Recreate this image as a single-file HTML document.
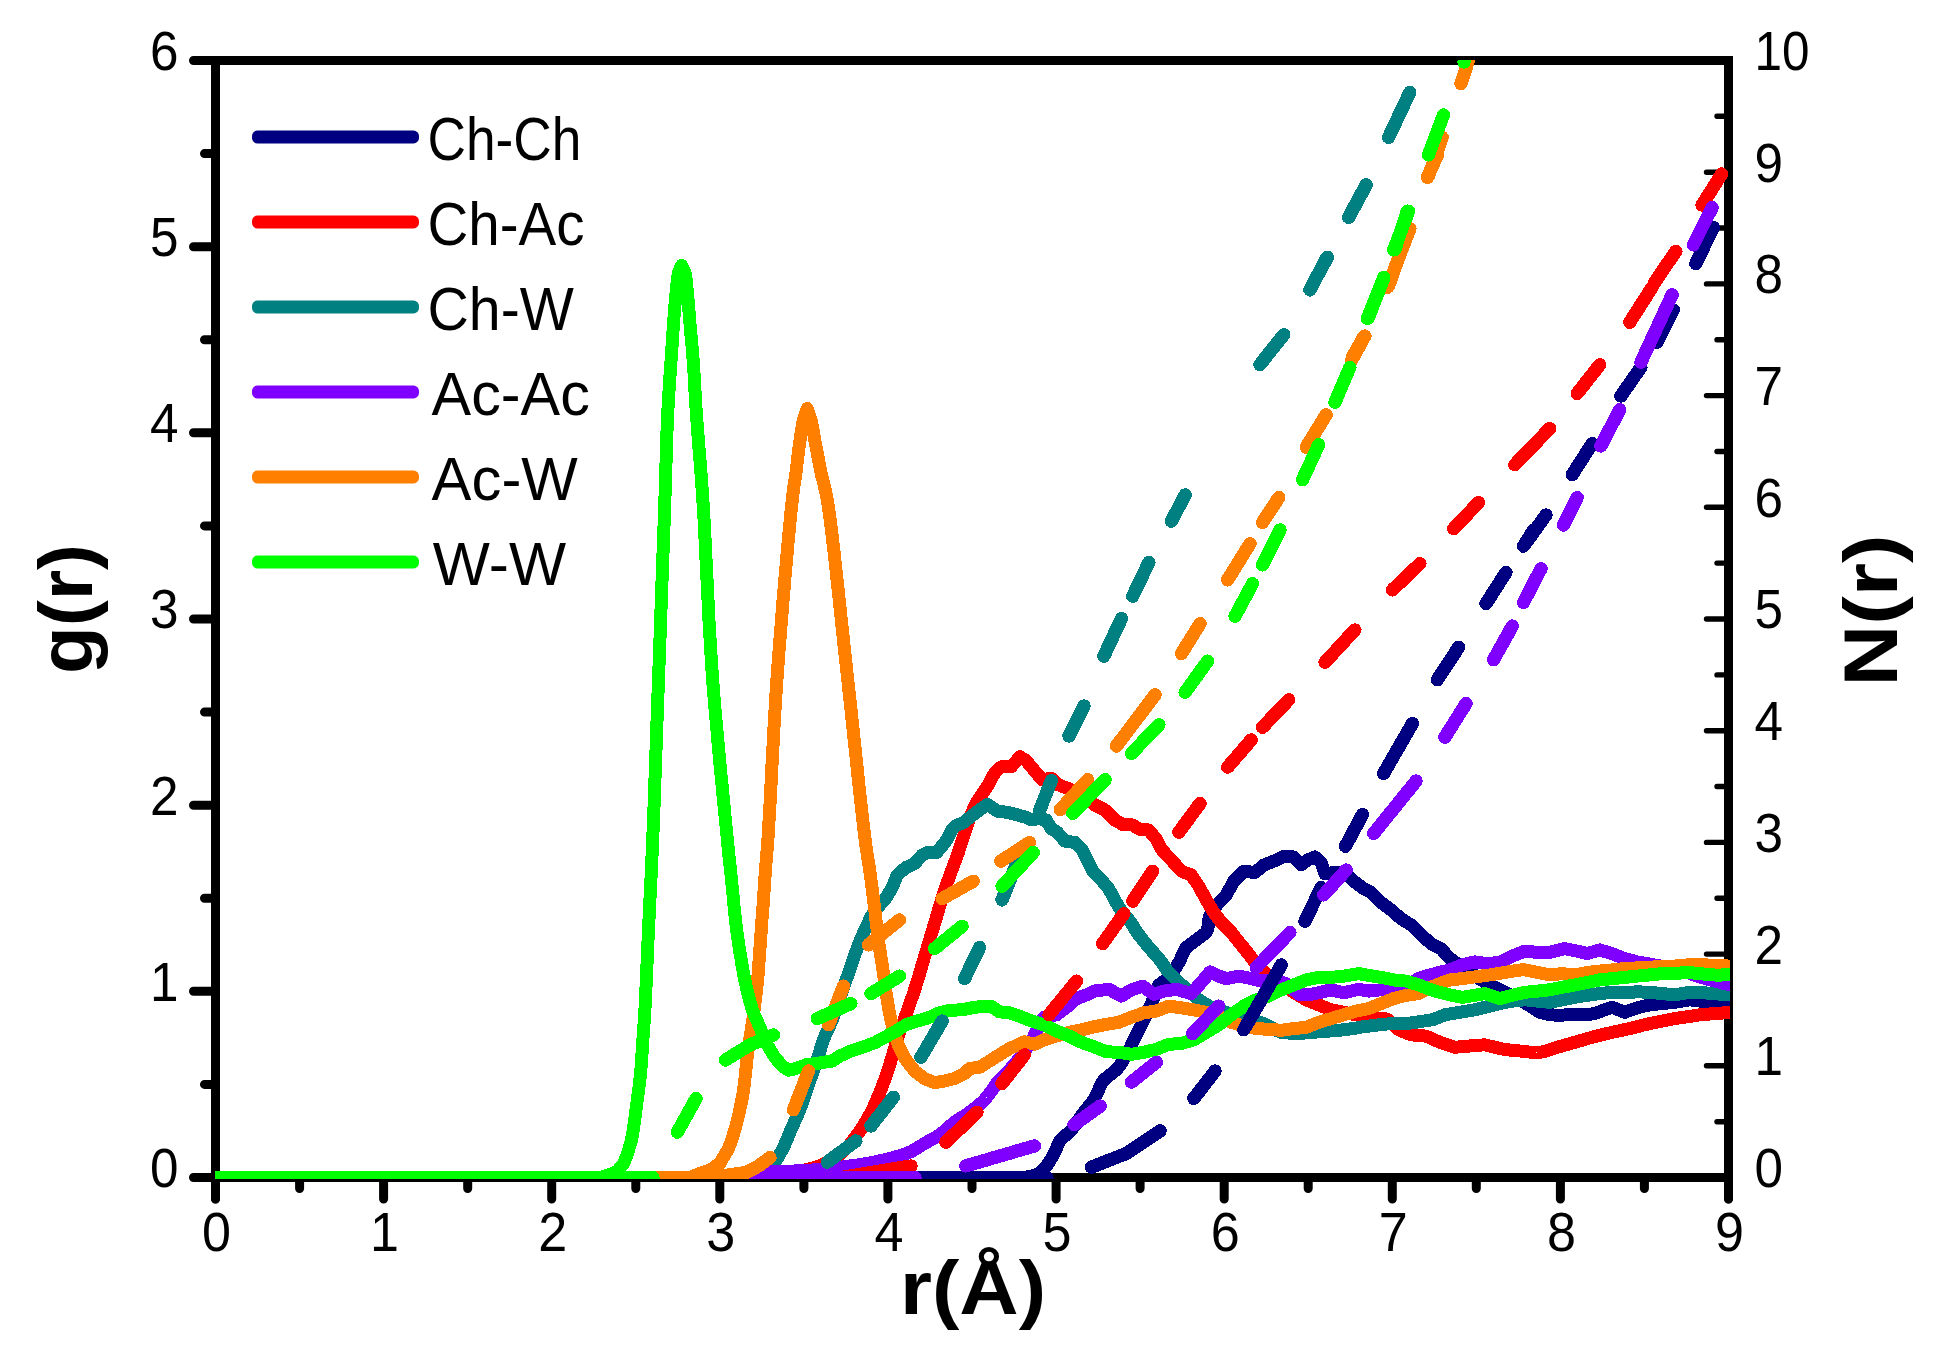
<!DOCTYPE html>
<html lang="en"><head><meta charset="utf-8"><title>g(r) and N(r)</title>
<style>
html,body{margin:0;padding:0;background:#fff;}
body{width:1938px;height:1362px;overflow:hidden;}
svg{display:block;}
text{font-family:"Liberation Sans","DejaVu Sans",sans-serif;fill:#000;}
.tk{font-size:56px;}
.lg{font-size:62px;}
.ax{font-size:76px;font-weight:bold;}
</style></head><body>
<svg width="1938" height="1362" viewBox="0 0 1938 1362">
<rect width="1938" height="1362" fill="#fff"/>
<defs><clipPath id="cp"><rect x="215" y="60" width="1515" height="1119"/></clipPath></defs>

<g stroke="#000" fill="none" stroke-linecap="round">
<path d="M215.5 60.5 V1199 M1728.5 60.5 V1199" stroke-width="9"/>
<path d="M193.5 60.5 H1733.0" stroke-width="9" stroke-linecap="butt"/>
<path d="M193.5 1177.5 H1733.0" stroke-width="9" stroke-linecap="butt"/>
<path d="M193.5 1177.5 H215.5 M193.5 991.3 H215.5 M193.5 805.2 H215.5 M193.5 619.0 H215.5 M193.5 432.8 H215.5 M193.5 246.7 H215.5 M193.5 60.5 H215.5 M204.5 1084.4 H215.5 M204.5 898.2 H215.5 M204.5 712.1 H215.5 M204.5 525.9 H215.5 M204.5 339.8 H215.5 M204.5 153.6 H215.5 M215.5 1177.5 V1199 M383.6 1177.5 V1199 M551.7 1177.5 V1199 M719.8 1177.5 V1199 M887.9 1177.5 V1199 M1056.1 1177.5 V1199 M1224.2 1177.5 V1199 M1392.3 1177.5 V1199 M1560.4 1177.5 V1199 M1728.5 1177.5 V1199 M299.6 1177.5 V1188.5 M467.7 1177.5 V1188.5 M635.8 1177.5 V1188.5 M803.9 1177.5 V1188.5 M972.0 1177.5 V1188.5 M1140.1 1177.5 V1188.5 M1308.2 1177.5 V1188.5 M1476.3 1177.5 V1188.5 M1644.4 1177.5 V1188.5 " stroke-width="9"/>
<path d="M1706.5 1065.8 H1728.5 M1706.5 954.1 H1728.5 M1706.5 842.4 H1728.5 M1706.5 730.7 H1728.5 M1706.5 619.0 H1728.5 M1706.5 507.3 H1728.5 M1706.5 395.6 H1728.5 M1706.5 283.9 H1728.5 M1706.5 172.2 H1728.5 M1717 1121.7 H1728.5 M1717 1010.0 H1728.5 M1717 898.2 H1728.5 M1717 786.5 H1728.5 M1717 674.9 H1728.5 M1717 563.1 H1728.5 M1717 451.5 H1728.5 M1717 339.8 H1728.5 M1717 228.0 H1728.5 M1717 116.3 H1728.5 " stroke-width="5.4" stroke-linecap="round"/>
</g>
<g clip-path="url(#cp)" fill="none" stroke-linejoin="round" stroke-linecap="butt" shape-rendering="crispEdges">
<path d="M900.0 1177.5 L903.1 1177.5 L906.3 1177.5 L909.5 1177.5 L912.8 1177.6 L916.1 1177.6 L919.5 1177.6 L923.0 1177.7 L926.5 1177.7 L930.0 1177.7 L933.5 1177.8 L937.1 1177.8 L940.7 1177.9 L944.3 1177.9 L947.9 1178.0 L951.5 1178.0 L955.1 1178.1 L958.7 1178.1 L962.2 1178.2 L965.8 1178.2 L969.3 1178.3 L972.7 1178.3 L976.1 1178.4 L979.5 1178.4 L982.8 1178.4 L986.1 1178.4 L989.3 1178.4 L992.4 1178.4 L995.4 1178.4 L998.4 1178.4 L1001.2 1178.4 L1004.0 1178.4 L1006.6 1178.4 L1009.2 1178.3 L1011.6 1178.3 L1014.0 1178.2 L1016.1 1178.1 L1018.2 1178.0 L1020.1 1177.9 L1021.9 1177.8 L1023.5 1177.6 L1025.0 1177.5 L1036.0 1175.0 L1042.0 1171.0 L1048.0 1164.0 L1054.0 1154.0 L1059.0 1142.2 L1061.0 1139.6 L1063.5 1137.2 L1066.2 1134.9 L1068.9 1132.4 L1071.5 1129.7 L1073.3 1127.4 L1075.2 1124.9 L1077.0 1122.3 L1078.7 1119.7 L1080.5 1117.1 L1082.2 1114.6 L1084.0 1112.2 L1093.9 1099.7 L1095.4 1097.1 L1096.8 1094.2 L1098.1 1091.1 L1099.4 1088.0 L1100.8 1085.0 L1102.3 1082.2 L1103.9 1079.8 L1116.4 1069.8 L1118.3 1067.6 L1120.0 1065.2 L1121.7 1062.7 L1123.3 1060.1 L1124.8 1057.5 L1126.4 1054.8 L1127.9 1052.1 L1129.4 1049.3 L1130.8 1046.5 L1132.2 1043.5 L1133.6 1040.6 L1135.0 1037.7 L1136.4 1034.8 L1137.8 1031.9 L1139.3 1029.1 L1140.8 1026.2 L1142.2 1023.3 L1143.7 1020.4 L1145.1 1017.6 L1146.4 1014.8 L1147.8 1011.8 L1149.1 1008.8 L1150.3 1005.8 L1151.6 1002.9 L1152.8 1000.1 L1153.9 997.3 L1158.9 984.9 L1168.9 977.4 L1170.7 975.2 L1172.4 972.9 L1174.1 970.3 L1175.8 967.7 L1177.4 965.0 L1178.9 962.4 L1180.4 959.3 L1181.8 956.1 L1183.1 952.9 L1184.6 950.0 L1186.4 947.4 L1196.3 939.9 L1206.3 932.4 L1207.6 929.4 L1208.2 925.9 L1208.6 922.1 L1209.1 918.3 L1210.1 914.9 L1218.8 902.4 L1226.3 894.9 L1233.8 881.2 L1243.8 871.2 L1255.0 872.5 L1263.8 865.0 L1273.8 861.2 L1283.8 856.2 L1293.7 857.0 L1301.2 865.0 L1307.5 860.0 L1315.0 857.0 L1321.2 862.5 L1325.0 873.7 L1333.7 872.5 L1343.7 872.0 L1353.7 881.2 L1363.7 888.7 L1371.2 892.4 L1381.2 902.4 L1391.1 909.9 L1401.1 918.7 L1411.1 924.9 L1421.1 934.9 L1431.1 943.6 L1441.1 948.6 L1448.6 957.4 L1458.6 964.9 L1468.6 969.9 L1481.0 979.9 L1494.8 987.3 L1507.3 993.6 L1519.8 999.8 L1532.3 1007.3 L1539.8 1012.3 L1549.7 1014.8 L1559.7 1015.3 L1574.7 1014.3 L1578.0 1014.2 L1581.4 1014.2 L1585.0 1014.2 L1588.5 1014.2 L1591.8 1014.0 L1594.7 1013.6 L1604.7 1009.8 L1612.2 1007.3 L1624.7 1012.3 L1637.2 1007.8 L1649.6 1004.8 L1662.1 1003.6 L1674.6 1002.3 L1689.6 999.8 L1699.6 1001.1 L1712.1 1002.3 L1715.1 1002.7 L1718.2 1003.1 L1721.5 1003.5 L1724.9 1004.0 L1728.3 1004.4 L1731.6 1004.8" stroke="#000080" stroke-width="13.0"/>
<path d="M770.0 1177.5 L780.0 1177.5 L792.3 1173.4 L794.8 1172.7 L797.5 1171.9 L800.5 1171.2 L803.6 1170.4 L806.9 1169.6 L810.1 1168.7 L813.4 1167.8 L816.5 1166.8 L819.5 1165.8 L822.2 1164.7 L825.4 1163.2 L828.5 1161.6 L831.4 1159.9 L834.3 1158.1 L837.0 1156.3 L839.7 1154.3 L842.2 1152.2 L844.6 1150.0 L846.9 1147.6 L849.1 1145.2 L851.2 1142.6 L853.2 1140.0 L855.2 1137.4 L857.2 1134.7 L859.1 1132.0 L861.0 1129.2 L862.8 1126.5 L864.6 1123.6 L866.3 1120.7 L868.0 1117.8 L869.7 1114.7 L871.0 1112.1 L872.4 1109.4 L873.7 1106.7 L875.0 1103.9 L876.2 1101.1 L877.4 1098.2 L878.6 1095.4 L879.8 1092.6 L880.9 1089.7 L882.1 1086.6 L883.3 1083.5 L884.4 1080.4 L885.5 1077.3 L886.6 1074.2 L887.6 1071.0 L888.6 1067.9 L889.7 1064.8 L890.6 1061.7 L891.6 1058.5 L892.5 1055.4 L893.4 1052.3 L894.3 1049.2 L895.2 1046.0 L896.2 1042.9 L897.2 1039.8 L898.2 1036.7 L899.3 1033.5 L900.3 1030.4 L901.4 1027.3 L902.6 1024.2 L903.7 1021.1 L904.8 1017.9 L905.9 1014.8 L907.0 1011.7 L908.1 1008.6 L909.2 1005.5 L910.3 1002.3 L911.4 999.2 L912.5 996.1 L913.6 993.0 L914.6 989.8 L915.6 986.7 L916.6 983.6 L917.5 980.5 L918.5 977.4 L919.4 974.2 L920.3 971.1 L921.2 968.0 L922.1 964.9 L923.1 961.7 L924.0 958.6 L924.9 955.5 L925.9 952.4 L926.8 949.3 L927.7 946.1 L928.7 943.0 L929.6 939.9 L930.6 936.8 L931.5 933.7 L932.4 930.5 L933.4 927.4 L934.3 924.3 L935.2 921.2 L936.2 918.0 L937.1 914.9 L938.0 911.8 L938.9 908.8 L939.8 905.7 L940.7 902.7 L941.6 899.6 L942.5 896.5 L943.5 893.3 L944.6 889.9 L945.5 887.2 L946.6 884.3 L947.6 881.3 L948.8 878.3 L949.9 875.2 L951.1 872.1 L952.2 869.0 L953.4 866.0 L954.5 863.0 L955.6 860.2 L956.5 857.4 L957.5 854.9 L958.7 851.4 L959.7 848.2 L960.7 845.1 L961.7 842.2 L962.7 839.2 L963.7 836.1 L964.7 833.0 L965.7 829.8 L966.7 826.7 L967.7 823.5 L968.8 820.4 L969.9 817.4 L971.3 814.0 L972.7 810.7 L974.2 807.5 L975.8 804.3 L977.4 801.2 L979.0 798.6 L980.7 796.1 L982.4 793.6 L984.2 791.1 L985.9 788.7 L987.4 786.2 L994.9 772.5 L1001.2 766.8 L1011.2 766.8 L1019.9 756.8 L1026.1 760.6 L1034.9 771.2 L1042.4 779.9 L1051.1 778.1 L1058.6 784.9 L1068.6 788.7 L1082.3 796.2 L1094.8 804.9 L1104.8 809.9 L1114.8 819.9 L1122.3 824.3 L1132.3 824.9 L1139.8 829.3 L1148.5 829.9 L1156.0 838.6 L1162.0 849.9 L1171.4 860.0 L1181.4 871.2 L1191.3 875.0 L1198.8 886.2 L1206.3 899.9 L1213.8 912.4 L1221.3 922.4 L1231.3 932.4 L1241.3 944.9 L1251.3 957.4 L1258.8 967.4 L1266.3 973.6 L1276.3 979.9 L1278.5 981.4 L1281.0 983.2 L1283.6 985.1 L1286.2 987.0 L1288.8 988.9 L1291.3 990.7 L1293.7 992.3 L1306.2 999.8 L1318.7 1004.8 L1331.2 1009.8 L1343.7 1012.3 L1346.4 1012.9 L1349.4 1013.5 L1352.5 1014.2 L1355.8 1014.9 L1359.1 1015.5 L1362.4 1016.2 L1365.6 1016.8 L1368.7 1017.3 L1372.2 1017.7 L1375.8 1017.9 L1379.3 1018.0 L1382.7 1018.3 L1385.8 1018.8 L1388.6 1019.8 L1398.6 1029.8 L1411.1 1034.8 L1424.9 1036.0 L1427.9 1037.0 L1430.8 1038.2 L1433.8 1039.6 L1436.8 1041.0 L1439.9 1042.3 L1454.8 1047.3 L1469.8 1046.0 L1484.8 1044.8 L1499.8 1048.5 L1502.9 1049.1 L1506.2 1049.6 L1509.6 1050.0 L1513.0 1050.4 L1516.4 1050.7 L1519.8 1051.0 L1523.1 1051.4 L1526.5 1051.8 L1529.9 1052.1 L1533.2 1052.4 L1536.5 1052.5 L1539.8 1052.3 L1542.8 1051.8 L1545.7 1051.1 L1548.6 1050.2 L1551.5 1049.2 L1554.3 1048.2 L1557.2 1047.3 L1560.1 1046.5 L1563.1 1045.6 L1566.0 1044.8 L1568.9 1044.0 L1571.8 1043.1 L1574.7 1042.3 L1577.6 1041.5 L1580.5 1040.6 L1583.4 1039.8 L1586.3 1038.9 L1589.2 1038.1 L1592.2 1037.3 L1595.5 1036.4 L1598.8 1035.6 L1602.2 1034.7 L1605.6 1033.9 L1608.9 1033.1 L1612.2 1032.3 L1615.7 1031.5 L1619.2 1030.8 L1622.6 1030.1 L1626.1 1029.3 L1629.7 1028.6 L1633.0 1027.8 L1636.4 1026.9 L1639.9 1026.0 L1643.3 1025.1 L1646.6 1024.3 L1649.6 1023.6 L1662.1 1021.1 L1674.6 1018.6 L1687.1 1016.8 L1699.6 1014.8 L1714.6 1013.6 L1717.9 1013.3 L1721.3 1013.1 L1724.7 1012.8 L1728.1 1012.6 L1731.6 1012.3" stroke="#FF0000" stroke-width="13.0"/>
<path d="M725.0 1177.5 L740.0 1177.5 L743.4 1177.0 L746.9 1176.4 L750.5 1175.6 L754.0 1174.6 L757.3 1173.4 L760.5 1172.1 L763.7 1170.5 L766.8 1168.8 L769.6 1166.9 L772.3 1164.7 L774.3 1162.6 L776.1 1160.2 L777.7 1157.7 L779.3 1155.1 L780.8 1152.4 L782.3 1149.7 L783.6 1147.0 L784.9 1144.2 L786.2 1141.4 L787.4 1138.5 L788.6 1135.5 L789.8 1132.6 L791.0 1129.7 L792.3 1126.9 L793.5 1124.1 L794.8 1121.3 L796.1 1118.5 L797.3 1115.6 L798.5 1112.7 L799.8 1109.7 L800.9 1106.7 L802.0 1103.7 L803.1 1100.6 L804.2 1097.4 L805.3 1094.2 L806.3 1091.1 L807.4 1087.9 L808.5 1084.7 L809.6 1081.6 L810.7 1078.4 L811.9 1075.3 L813.0 1072.1 L814.1 1068.9 L815.2 1065.8 L816.2 1062.8 L817.2 1059.8 L818.3 1056.3 L819.3 1052.9 L820.3 1049.6 L821.3 1046.3 L822.3 1043.1 L823.5 1039.8 L824.6 1036.9 L825.8 1034.1 L827.1 1031.3 L828.4 1028.5 L829.7 1025.7 L831.0 1022.8 L832.2 1019.8 L833.4 1016.8 L834.5 1013.8 L835.6 1010.7 L836.6 1007.5 L837.7 1004.3 L838.8 1001.2 L839.9 998.0 L841.0 994.8 L842.1 991.7 L843.1 988.6 L844.2 985.5 L845.3 982.4 L846.4 979.2 L847.5 976.1 L848.6 973.0 L849.7 969.9 L850.8 966.7 L851.9 963.5 L852.9 960.4 L854.0 957.2 L855.1 954.0 L856.2 950.9 L857.3 947.9 L858.4 944.9 L859.6 941.9 L860.9 938.9 L862.1 936.0 L863.4 933.1 L864.6 930.3 L865.9 927.6 L867.2 924.9 L868.7 921.7 L870.2 918.5 L871.8 915.5 L873.4 912.6 L875.2 909.9 L884.7 899.9 L892.2 887.5 L897.2 875.0 L905.9 867.5 L914.6 863.7 L922.1 855.0 L927.5 852.4 L936.2 853.0 L945.0 842.4 L946.6 839.8 L948.2 836.8 L949.8 833.7 L951.4 830.8 L953.1 828.2 L955.0 826.2 L963.7 822.4 L976.2 812.4 L987.4 804.3 L997.4 811.2 L1007.4 812.4 L1017.4 814.9 L1026.1 817.4 L1031.1 819.9 L1038.6 818.7 L1046.1 819.9 L1051.1 828.6 L1057.4 832.4 L1064.9 841.1 L1074.8 842.4 L1082.3 849.9 L1088.6 862.4 L1093.6 872.4 L1102.3 881.1 L1108.6 888.6 L1114.8 899.9 L1118.9 907.4 L1128.9 919.9 L1130.6 922.3 L1132.3 924.8 L1133.9 927.4 L1135.5 930.0 L1137.2 932.5 L1138.9 934.9 L1148.9 947.4 L1158.9 958.6 L1160.9 961.3 L1162.9 964.1 L1164.8 967.0 L1166.8 969.8 L1168.9 972.4 L1178.9 982.4 L1188.9 991.1 L1198.8 999.8 L1208.8 1006.1 L1218.8 1009.8 L1233.8 1014.8 L1248.8 1018.6 L1263.8 1023.6 L1266.7 1024.9 L1269.6 1026.5 L1272.6 1028.2 L1275.6 1029.9 L1278.5 1031.3 L1281.3 1032.3 L1293.7 1033.6 L1296.5 1033.5 L1299.4 1033.4 L1302.5 1033.2 L1305.7 1032.9 L1309.0 1032.7 L1312.3 1032.4 L1315.5 1032.1 L1318.7 1031.8 L1321.8 1031.6 L1325.0 1031.4 L1328.1 1031.1 L1331.2 1030.9 L1334.3 1030.7 L1337.5 1030.4 L1340.6 1030.1 L1343.7 1029.8 L1346.8 1029.4 L1349.9 1029.0 L1353.1 1028.5 L1356.2 1028.0 L1359.3 1027.4 L1362.4 1026.9 L1365.5 1026.5 L1368.7 1026.1 L1371.8 1025.7 L1375.1 1025.3 L1378.4 1024.9 L1381.7 1024.5 L1384.9 1024.2 L1388.0 1023.9 L1390.9 1023.7 L1393.6 1023.6 L1406.1 1023.6 L1418.6 1021.8 L1432.4 1019.8 L1444.9 1014.8 L1459.8 1012.3 L1474.8 1009.8 L1489.8 1006.1 L1499.8 1003.6 L1512.3 1001.1 L1524.8 999.8 L1537.3 1001.1 L1549.7 1002.3 L1562.2 999.8 L1574.7 997.3 L1587.2 995.3 L1599.7 993.6 L1612.2 992.3 L1624.7 992.8 L1637.2 991.8 L1649.6 992.3 L1662.1 993.6 L1674.6 994.8 L1687.1 992.8 L1699.6 992.3 L1712.1 993.6 L1715.1 993.8 L1718.2 994.0 L1721.5 994.2 L1724.9 994.4 L1728.3 994.6 L1731.6 994.8" stroke="#008080" stroke-width="13.0"/>
<path d="M725.0 1177.5 L740.0 1177.5 L752.3 1173.4 L754.3 1173.1 L756.6 1172.8 L759.0 1172.5 L761.7 1172.3 L764.5 1172.1 L767.4 1171.9 L770.5 1171.8 L773.7 1171.7 L776.9 1171.5 L780.3 1171.4 L783.7 1171.3 L787.1 1171.2 L790.4 1171.1 L793.8 1171.0 L797.2 1170.9 L800.5 1170.7 L803.7 1170.6 L806.8 1170.4 L809.7 1170.2 L813.0 1169.9 L816.3 1169.6 L819.6 1169.3 L822.9 1169.0 L826.2 1168.7 L829.5 1168.4 L832.8 1168.0 L836.0 1167.7 L839.2 1167.3 L842.4 1167.0 L845.5 1166.6 L848.5 1166.2 L851.5 1165.8 L854.3 1165.5 L857.1 1165.1 L859.7 1164.7 L863.2 1164.1 L866.6 1163.5 L869.7 1163.0 L872.7 1162.4 L875.7 1161.8 L878.6 1161.1 L881.6 1160.4 L884.7 1159.7 L887.9 1158.9 L891.1 1158.1 L894.4 1157.2 L897.6 1156.3 L900.8 1155.4 L903.9 1154.4 L906.9 1153.3 L909.6 1152.2 L912.9 1150.6 L916.0 1148.9 L918.9 1147.0 L921.7 1145.2 L924.6 1143.4 L927.6 1141.7 L930.7 1140.1 L933.7 1138.4 L936.7 1136.6 L939.6 1134.7 L942.2 1132.8 L944.6 1130.7 L947.1 1128.5 L949.6 1126.3 L952.1 1124.2 L954.6 1122.2 L957.1 1120.5 L959.6 1118.8 L962.1 1117.2 L964.6 1115.6 L967.1 1114.0 L969.6 1112.2 L972.1 1110.3 L974.7 1108.4 L977.2 1106.4 L979.7 1104.3 L982.2 1102.1 L984.6 1099.7 L986.5 1097.5 L988.5 1095.0 L990.4 1092.4 L992.3 1089.7 L994.2 1087.0 L996.0 1084.4 L997.8 1081.9 L999.5 1079.8 L1009.5 1069.8 L1011.6 1067.5 L1013.7 1065.1 L1015.9 1062.5 L1018.0 1059.9 L1020.1 1057.4 L1022.0 1054.8 L1023.8 1052.4 L1025.5 1050.0 L1027.1 1047.5 L1028.7 1045.1 L1030.4 1042.5 L1032.0 1039.8 L1033.5 1037.1 L1034.8 1034.0 L1036.2 1030.8 L1037.6 1027.5 L1039.0 1024.3 L1040.5 1021.5 L1042.2 1019.1 L1044.0 1017.3 L1056.5 1014.8 L1066.5 1007.3 L1076.5 998.6 L1086.5 994.8 L1093.9 991.1 L1108.9 989.3 L1121.4 996.1 L1131.4 989.8 L1142.6 986.1 L1153.9 994.3 L1163.9 991.1 L1176.4 989.3 L1191.3 993.6 L1201.3 982.4 L1210.1 971.9 L1218.8 976.1 L1226.3 978.6 L1238.8 976.1 L1251.3 978.6 L1261.3 981.1 L1276.3 979.9 L1288.7 984.9 L1298.7 994.3 L1308.7 994.8 L1318.7 992.8 L1331.2 989.8 L1343.7 992.8 L1358.7 989.3 L1368.7 991.1 L1381.2 989.8 L1393.6 989.8 L1406.1 986.1 L1418.6 978.6 L1421.7 977.4 L1424.9 976.3 L1428.3 975.4 L1431.6 974.5 L1434.9 973.6 L1449.8 969.9 L1462.3 964.9 L1474.8 961.9 L1487.3 963.6 L1499.8 962.4 L1512.3 956.1 L1524.8 951.1 L1537.3 952.4 L1549.7 952.4 L1564.7 948.6 L1577.2 951.1 L1587.2 953.6 L1599.7 949.9 L1612.2 953.6 L1624.7 958.6 L1637.2 961.9 L1649.6 964.1 L1662.1 966.4 L1674.6 968.9 L1687.1 972.4 L1699.6 976.9 L1712.1 980.4 L1724.6 983.6 L1731.6 984.9" stroke="#8000FF" stroke-width="13.0"/>
<path d="M640.0 1177.5 L643.2 1177.5 L646.5 1177.6 L649.9 1177.7 L653.4 1177.8 L656.9 1177.9 L660.5 1178.0 L664.0 1178.2 L667.5 1178.3 L670.8 1178.3 L674.1 1178.4 L677.3 1178.4 L680.3 1178.4 L683.1 1178.3 L685.6 1178.1 L688.0 1177.8 L690.0 1177.5 L699.9 1173.4 L709.8 1170.2 L719.8 1163.4 L727.8 1149.7 L729.0 1147.1 L730.1 1144.3 L731.1 1141.4 L732.1 1138.5 L733.0 1135.6 L733.9 1132.6 L734.8 1129.7 L735.8 1126.4 L736.7 1123.1 L737.5 1119.7 L738.3 1116.4 L739.1 1113.1 L739.8 1109.7 L740.5 1106.5 L741.2 1103.3 L741.8 1100.1 L742.4 1096.9 L743.0 1093.4 L743.6 1089.7 L743.9 1087.0 L744.3 1084.2 L744.7 1081.2 L745.0 1078.1 L745.3 1075.0 L745.7 1071.7 L746.0 1068.5 L746.3 1065.2 L746.7 1061.9 L747.0 1058.7 L747.4 1055.4 L747.8 1052.3 L748.2 1049.2 L748.7 1046.0 L749.2 1042.9 L749.6 1039.8 L750.1 1036.7 L750.6 1033.5 L751.2 1030.4 L751.7 1027.3 L752.1 1024.2 L752.6 1021.0 L753.1 1017.9 L753.5 1014.8 L753.9 1011.7 L754.3 1008.6 L754.7 1005.5 L755.1 1002.3 L755.5 999.2 L755.8 996.1 L756.2 993.0 L756.5 989.9 L756.9 986.8 L757.2 983.6 L757.5 980.5 L757.8 977.4 L758.1 974.3 L758.3 971.2 L758.6 968.0 L758.8 964.9 L759.0 961.8 L759.2 958.7 L759.4 955.5 L759.7 952.4 L759.9 949.3 L760.1 946.2 L760.3 943.0 L760.5 939.9 L760.7 936.8 L761.0 933.6 L761.2 930.5 L761.4 927.4 L761.7 924.3 L761.9 921.1 L762.1 918.0 L762.4 914.9 L762.6 911.8 L762.8 908.6 L763.1 905.5 L763.3 902.4 L763.5 899.3 L763.7 896.1 L763.9 892.9 L764.2 889.7 L764.4 886.4 L764.6 883.2 L764.8 880.0 L765.0 876.9 L765.2 873.8 L765.4 870.8 L765.6 867.9 L765.8 865.0 L766.1 861.8 L766.3 858.9 L766.5 856.2 L766.8 853.6 L767.0 850.8 L767.3 847.7 L767.6 844.1 L767.9 840.0 L768.0 838.3 L768.1 836.5 L768.3 834.5 L768.4 832.5 L768.5 830.5 L768.6 828.3 L768.8 826.1 L768.9 823.7 L769.0 821.3 L769.2 818.9 L769.3 816.3 L769.5 813.7 L769.6 811.1 L769.8 808.3 L769.9 805.6 L770.1 802.7 L770.2 799.8 L770.4 796.9 L770.5 793.9 L770.7 790.8 L770.8 787.7 L771.0 784.6 L771.2 781.4 L771.3 778.2 L771.5 775.0 L771.7 771.7 L771.8 768.4 L772.0 765.1 L772.2 761.8 L772.3 758.4 L772.5 755.0 L772.7 751.6 L772.9 748.2 L773.1 744.8 L773.2 741.3 L773.4 737.9 L773.6 734.4 L773.8 731.0 L774.0 727.6 L774.2 724.1 L774.4 720.7 L774.6 717.3 L774.8 713.9 L775.0 710.5 L775.2 707.1 L775.4 703.7 L775.6 700.4 L775.8 697.1 L776.0 693.8 L776.2 690.6 L776.4 687.3 L776.6 684.1 L776.8 681.0 L777.1 677.9 L777.3 674.8 L777.5 671.8 L777.7 668.8 L777.9 665.7 L778.2 662.6 L778.4 659.4 L778.6 656.2 L778.9 653.0 L779.1 649.7 L779.4 646.4 L779.6 643.1 L779.9 639.8 L780.2 636.4 L780.4 633.0 L780.7 629.6 L781.0 626.2 L781.2 622.8 L781.5 619.4 L781.8 615.9 L782.1 612.5 L782.4 609.0 L782.6 605.6 L782.9 602.1 L783.2 598.7 L783.5 595.3 L783.8 591.9 L784.1 588.4 L784.4 585.0 L784.6 581.7 L784.9 578.3 L785.2 575.0 L785.5 571.7 L785.8 568.4 L786.1 565.1 L786.4 561.9 L786.6 558.7 L786.9 555.5 L787.2 552.4 L787.5 549.3 L787.8 546.3 L788.0 543.3 L788.3 540.4 L788.6 537.5 L788.8 534.6 L789.1 531.9 L789.3 529.1 L789.6 526.5 L789.8 523.9 L790.1 521.3 L790.3 518.8 L790.6 516.4 L790.8 514.1 L791.0 511.9 L791.2 509.7 L791.5 507.6 L791.7 505.6 L791.9 503.6 L792.1 501.8 L792.3 500.0 L792.7 495.9 L793.2 492.2 L793.6 489.0 L794.0 486.0 L794.4 483.3 L794.8 480.6 L795.2 478.0 L795.6 475.2 L796.0 472.2 L796.4 469.2 L796.8 466.2 L797.1 463.1 L797.5 460.1 L797.9 457.0 L798.2 453.9 L798.6 450.9 L799.0 447.9 L799.4 445.0 L799.8 442.2 L800.2 438.8 L800.7 435.3 L801.2 431.9 L801.8 428.6 L802.3 425.5 L802.9 422.5 L803.5 419.7 L807.2 408.5 L811.0 419.7 L811.6 422.5 L812.3 425.5 L812.9 428.6 L813.4 431.9 L814.0 435.3 L814.6 438.8 L815.2 442.2 L815.8 445.0 L816.3 447.9 L816.9 450.9 L817.4 453.9 L818.0 457.0 L818.6 460.1 L819.2 463.1 L819.8 466.2 L820.4 469.2 L821.0 472.2 L821.6 475.2 L822.3 478.0 L823.0 480.6 L823.7 483.3 L824.3 486.0 L825.0 489.0 L825.8 492.2 L826.5 495.8 L827.2 500.0 L827.5 501.8 L827.8 503.6 L828.1 505.5 L828.4 507.6 L828.7 509.7 L829.0 511.8 L829.3 514.1 L829.7 516.4 L830.0 518.8 L830.3 521.3 L830.6 523.8 L831.0 526.4 L831.3 529.1 L831.6 531.8 L832.0 534.6 L832.3 537.5 L832.7 540.4 L833.0 543.3 L833.4 546.3 L833.7 549.3 L834.1 552.4 L834.4 555.5 L834.8 558.7 L835.1 561.9 L835.5 565.1 L835.8 568.4 L836.2 571.6 L836.5 575.0 L836.9 578.3 L837.3 581.7 L837.6 585.0 L838.0 588.4 L838.4 591.8 L838.7 595.3 L839.1 598.7 L839.4 602.1 L839.8 605.6 L840.2 609.0 L840.5 612.5 L840.9 615.9 L841.3 619.4 L841.6 622.8 L842.0 626.2 L842.3 629.6 L842.7 633.0 L843.1 636.4 L843.4 639.8 L843.8 643.1 L844.1 646.4 L844.5 649.7 L844.8 653.0 L845.2 656.2 L845.5 659.4 L845.9 662.6 L846.2 665.7 L846.5 668.8 L846.9 671.8 L847.2 674.8 L847.5 677.9 L847.9 681.0 L848.2 684.1 L848.6 687.3 L848.9 690.5 L849.3 693.7 L849.6 697.0 L850.0 700.3 L850.3 703.6 L850.7 706.9 L851.1 710.3 L851.4 713.6 L851.8 717.0 L852.1 720.4 L852.5 723.8 L852.9 727.2 L853.2 730.6 L853.6 734.0 L853.9 737.4 L854.3 740.8 L854.6 744.2 L855.0 747.6 L855.4 751.0 L855.7 754.4 L856.1 757.7 L856.4 761.1 L856.8 764.4 L857.1 767.7 L857.5 770.9 L857.8 774.2 L858.1 777.4 L858.5 780.6 L858.8 783.7 L859.1 786.9 L859.5 789.9 L859.8 793.0 L860.1 796.0 L860.4 798.9 L860.8 801.8 L861.1 804.7 L861.4 807.5 L861.7 810.2 L862.0 812.9 L862.3 815.6 L862.6 818.1 L862.9 820.6 L863.1 823.1 L863.4 825.5 L863.7 827.8 L863.9 830.0 L864.2 832.2 L864.5 834.2 L864.7 836.2 L864.9 838.2 L865.2 840.0 L865.7 844.0 L866.2 847.5 L866.7 850.7 L867.1 853.6 L867.6 856.4 L868.0 859.0 L868.4 861.6 L868.8 864.2 L869.3 867.0 L869.7 870.0 L870.1 873.0 L870.5 876.2 L870.9 879.3 L871.4 882.5 L871.8 885.7 L872.2 888.9 L872.6 892.1 L873.0 895.3 L873.4 898.5 L873.8 901.7 L874.2 904.9 L874.6 908.1 L875.0 911.3 L875.3 914.5 L875.7 917.8 L876.1 921.0 L876.5 924.2 L876.8 927.4 L877.2 930.6 L877.6 933.7 L878.0 936.8 L878.4 939.9 L878.8 943.0 L879.3 946.0 L879.7 949.1 L880.2 952.1 L880.7 955.0 L881.1 958.0 L881.6 960.9 L882.0 963.9 L882.5 966.9 L882.9 969.9 L883.3 972.9 L883.8 975.9 L884.2 978.9 L884.6 982.0 L885.0 985.0 L885.4 988.1 L885.8 991.1 L886.2 994.0 L886.7 997.0 L887.2 999.8 L887.7 1003.1 L888.3 1006.3 L888.9 1009.5 L889.5 1012.7 L890.1 1015.8 L890.7 1018.8 L891.4 1021.9 L892.2 1024.8 L893.1 1028.3 L894.0 1031.8 L895.0 1035.2 L896.1 1038.5 L897.2 1041.7 L898.4 1044.8 L899.8 1048.0 L901.2 1051.1 L902.7 1054.1 L904.2 1057.0 L905.9 1059.8 L914.6 1071.0 L924.6 1078.5 L934.6 1082.7 L944.6 1081.0 L954.6 1078.5 L964.6 1073.5 L969.6 1068.5 L979.6 1067.3 L989.6 1061.0 L999.5 1054.8 L1009.5 1048.5 L1017.0 1045.3 L1024.5 1041.8 L1034.5 1044.3 L1044.0 1039.8 L1056.5 1036.0 L1069.0 1032.3 L1081.5 1029.8 L1093.9 1026.8 L1106.4 1024.3 L1118.9 1022.3 L1131.4 1017.3 L1143.9 1012.8 L1156.4 1011.1 L1168.9 1006.1 L1181.4 1007.8 L1193.8 1009.8 L1206.3 1012.3 L1218.8 1016.1 L1231.3 1022.3 L1243.8 1026.1 L1256.3 1028.6 L1268.8 1029.3 L1281.3 1030.3 L1293.7 1028.6 L1306.2 1027.3 L1318.7 1022.3 L1331.2 1018.6 L1343.7 1014.8 L1356.2 1011.1 L1368.7 1008.6 L1381.2 1003.6 L1393.6 998.6 L1406.1 995.3 L1418.6 993.6 L1429.9 987.8 L1439.9 983.6 L1449.8 979.9 L1462.3 978.6 L1474.8 976.9 L1489.8 974.9 L1504.8 972.4 L1508.0 971.9 L1511.4 971.3 L1514.9 970.7 L1518.4 970.2 L1521.7 969.9 L1524.8 969.9 L1537.3 972.4 L1549.7 974.9 L1562.2 973.6 L1574.7 974.9 L1587.2 972.4 L1599.7 971.1 L1612.2 969.9 L1624.7 968.6 L1637.2 967.9 L1649.6 967.4 L1662.1 966.1 L1674.6 966.1 L1687.1 964.9 L1699.6 964.4 L1712.1 965.4 L1715.1 965.5 L1718.2 965.7 L1721.5 965.8 L1724.9 965.9 L1728.3 966.0 L1731.6 966.1" stroke="#FF8000" stroke-width="13.0"/>
<path d="M215.5 1177.5 L218.5 1177.5 L221.6 1177.5 L224.7 1177.5 L227.8 1177.5 L230.9 1177.5 L234.1 1177.5 L237.3 1177.5 L240.5 1177.6 L243.8 1177.6 L247.1 1177.6 L250.4 1177.6 L253.8 1177.6 L257.1 1177.6 L260.5 1177.7 L263.9 1177.7 L267.4 1177.7 L270.8 1177.7 L274.3 1177.8 L277.8 1177.8 L281.3 1177.8 L284.8 1177.9 L288.4 1177.9 L292.0 1177.9 L295.5 1177.9 L299.1 1178.0 L302.7 1178.0 L306.4 1178.0 L310.0 1178.1 L313.7 1178.1 L317.3 1178.2 L321.0 1178.2 L324.7 1178.2 L328.3 1178.3 L332.0 1178.3 L335.7 1178.3 L339.4 1178.4 L343.2 1178.4 L346.9 1178.5 L350.6 1178.5 L354.3 1178.5 L358.0 1178.6 L361.8 1178.6 L365.5 1178.7 L369.2 1178.7 L373.0 1178.8 L376.7 1178.8 L380.4 1178.8 L384.1 1178.9 L387.8 1178.9 L391.5 1179.0 L395.2 1179.0 L398.9 1179.0 L402.6 1179.1 L406.3 1179.1 L410.0 1179.1 L413.7 1179.2 L417.3 1179.2 L420.9 1179.3 L424.6 1179.3 L428.2 1179.3 L431.8 1179.4 L435.4 1179.4 L438.9 1179.4 L442.5 1179.5 L446.0 1179.5 L449.6 1179.5 L453.1 1179.5 L456.5 1179.6 L460.0 1179.6 L463.4 1179.6 L466.9 1179.6 L470.3 1179.7 L473.6 1179.7 L477.0 1179.7 L480.3 1179.7 L483.6 1179.7 L486.9 1179.8 L490.1 1179.8 L493.3 1179.8 L496.5 1179.8 L499.7 1179.8 L502.8 1179.8 L505.9 1179.8 L509.0 1179.8 L512.0 1179.8 L515.0 1179.8 L518.0 1179.8 L520.9 1179.8 L523.8 1179.8 L526.7 1179.8 L529.5 1179.8 L532.3 1179.8 L535.0 1179.8 L537.7 1179.7 L540.4 1179.7 L543.0 1179.7 L545.5 1179.7 L548.1 1179.6 L550.6 1179.6 L553.0 1179.6 L555.4 1179.6 L557.8 1179.5 L560.1 1179.5 L562.3 1179.4 L564.5 1179.4 L566.7 1179.3 L568.8 1179.3 L570.8 1179.2 L572.9 1179.2 L574.8 1179.1 L576.7 1179.1 L578.5 1179.0 L580.3 1178.9 L582.1 1178.9 L583.7 1178.8 L585.4 1178.7 L586.9 1178.6 L588.4 1178.5 L589.9 1178.4 L591.2 1178.4 L592.6 1178.3 L593.8 1178.2 L595.0 1178.1 L596.1 1178.0 L597.2 1177.8 L598.2 1177.7 L599.1 1177.6 L600.0 1177.5 L610.0 1174.5 L617.5 1171.0 L623.7 1163.6 L627.5 1153.6 L631.2 1141.1 L631.8 1138.2 L632.4 1135.2 L632.9 1132.0 L633.4 1128.8 L633.8 1125.6 L634.3 1122.4 L634.8 1119.3 L635.2 1116.2 L635.6 1113.1 L636.0 1109.9 L636.4 1106.8 L636.8 1103.7 L637.2 1100.6 L637.7 1097.4 L638.1 1094.3 L638.5 1091.2 L638.9 1088.0 L639.3 1084.9 L639.7 1081.8 L640.0 1078.7 L640.3 1075.6 L640.6 1072.4 L640.9 1069.3 L641.2 1066.2 L641.4 1063.1 L641.6 1060.0 L641.8 1056.9 L642.0 1053.7 L642.2 1050.6 L642.4 1047.5 L642.6 1044.4 L642.8 1041.2 L643.0 1038.1 L643.3 1035.0 L643.5 1031.8 L643.7 1028.7 L643.9 1025.7 L644.1 1023.0 L644.3 1020.2 L644.5 1017.2 L644.7 1013.9 L644.9 1010.0 L645.0 1008.0 L645.1 1005.8 L645.2 1003.5 L645.4 1001.1 L645.5 998.5 L645.6 995.9 L645.7 993.1 L645.9 990.2 L646.0 987.2 L646.1 984.2 L646.3 981.1 L646.4 977.9 L646.5 974.6 L646.7 971.3 L646.8 968.0 L647.0 964.7 L647.1 961.3 L647.3 957.9 L647.4 954.5 L647.6 951.1 L647.7 947.7 L647.8 944.3 L648.0 941.0 L648.1 937.7 L648.3 934.4 L648.4 931.2 L648.6 928.1 L648.7 925.0 L648.8 922.0 L649.0 919.0 L649.1 916.0 L649.3 913.1 L649.4 910.2 L649.5 907.3 L649.7 904.4 L649.8 901.5 L650.0 898.7 L650.1 895.8 L650.2 892.9 L650.4 890.0 L650.5 887.2 L650.7 884.3 L650.8 881.3 L651.0 878.4 L651.1 875.4 L651.2 872.4 L651.4 869.4 L651.5 866.3 L651.7 863.2 L651.8 860.1 L652.0 856.9 L652.1 853.6 L652.3 850.3 L652.4 846.9 L652.6 843.5 L652.7 840.0 L652.8 837.5 L652.9 834.9 L653.0 832.3 L653.1 829.7 L653.2 827.0 L653.3 824.4 L653.4 821.6 L653.5 818.9 L653.6 816.1 L653.8 813.3 L653.9 810.5 L654.0 807.7 L654.1 804.8 L654.2 801.9 L654.3 799.0 L654.4 796.1 L654.5 793.1 L654.6 790.1 L654.7 787.1 L654.8 784.1 L654.9 781.1 L655.0 778.1 L655.2 775.0 L655.3 771.9 L655.4 768.9 L655.5 765.8 L655.6 762.7 L655.7 759.5 L655.8 756.4 L655.9 753.3 L656.0 750.1 L656.1 747.0 L656.2 743.8 L656.3 740.7 L656.5 737.5 L656.6 734.4 L656.7 731.2 L656.8 728.0 L656.9 724.8 L657.0 721.7 L657.1 718.5 L657.2 715.3 L657.3 712.2 L657.4 709.0 L657.6 705.9 L657.7 702.7 L657.8 699.6 L657.9 696.5 L658.0 693.3 L658.1 690.2 L658.2 687.1 L658.3 684.0 L658.4 680.9 L658.5 677.9 L658.6 674.8 L658.8 671.8 L658.9 668.8 L659.0 665.8 L659.1 662.8 L659.2 659.7 L659.3 656.7 L659.4 653.6 L659.5 650.5 L659.6 647.4 L659.7 644.3 L659.9 641.1 L660.0 638.0 L660.1 634.9 L660.2 631.7 L660.3 628.5 L660.4 625.4 L660.5 622.2 L660.7 619.0 L660.8 615.9 L660.9 612.7 L661.0 609.5 L661.1 606.3 L661.2 603.1 L661.3 600.0 L661.5 596.8 L661.6 593.6 L661.7 590.5 L661.8 587.3 L661.9 584.1 L662.0 581.0 L662.1 577.9 L662.3 574.7 L662.4 571.6 L662.5 568.5 L662.6 565.4 L662.7 562.3 L662.8 559.3 L662.9 556.2 L663.0 553.2 L663.1 550.2 L663.2 547.2 L663.3 544.2 L663.4 541.3 L663.5 538.3 L663.7 535.4 L663.8 532.5 L663.9 529.7 L664.0 526.8 L664.1 524.0 L664.2 521.2 L664.2 518.5 L664.3 515.7 L664.4 513.0 L664.5 510.4 L664.6 507.7 L664.7 505.1 L664.8 502.5 L664.9 500.0 L665.0 496.5 L665.1 493.1 L665.2 489.7 L665.3 486.3 L665.4 482.9 L665.5 479.6 L665.6 476.4 L665.7 473.1 L665.8 469.9 L665.9 466.7 L666.0 463.6 L666.1 460.5 L666.2 457.4 L666.3 454.4 L666.4 451.4 L666.5 448.4 L666.5 445.4 L666.6 442.5 L666.7 439.6 L666.8 436.8 L666.9 433.9 L667.0 431.1 L667.1 428.4 L667.2 425.6 L667.3 422.9 L667.4 420.2 L667.5 417.6 L667.6 414.9 L667.8 412.3 L667.9 409.7 L668.1 406.2 L668.3 402.7 L668.4 399.4 L668.6 396.1 L668.9 392.8 L669.1 389.6 L669.3 386.5 L669.5 383.4 L669.7 380.4 L669.9 377.4 L670.1 374.4 L670.3 371.4 L670.5 368.5 L670.7 365.6 L670.9 362.7 L671.1 359.8 L671.4 356.5 L671.6 353.2 L671.8 350.0 L672.0 346.8 L672.2 343.6 L672.4 340.5 L672.6 337.4 L672.8 334.3 L673.0 331.3 L673.2 328.3 L673.4 325.3 L673.6 322.3 L673.9 319.2 L674.1 316.0 L674.3 312.9 L674.6 309.8 L674.8 306.8 L675.1 303.7 L675.3 300.8 L675.6 297.9 L675.9 295.1 L676.1 292.4 L676.5 288.7 L676.8 285.0 L677.2 281.5 L677.6 278.1 L678.0 275.0 L678.6 272.4 L681.6 265.4 L684.9 272.4 L685.5 275.0 L686.0 278.1 L686.4 281.4 L686.7 285.0 L687.0 288.7 L687.4 292.4 L687.6 295.1 L687.9 297.9 L688.2 300.8 L688.4 303.8 L688.6 306.8 L688.9 309.8 L689.1 312.9 L689.4 316.0 L689.6 319.2 L689.9 322.3 L690.1 325.3 L690.4 328.3 L690.7 331.3 L690.9 334.3 L691.2 337.4 L691.5 340.5 L691.8 343.6 L692.1 346.8 L692.3 349.9 L692.6 353.2 L692.9 356.5 L693.1 359.8 L693.3 362.7 L693.5 365.6 L693.7 368.5 L693.9 371.4 L694.1 374.4 L694.2 377.4 L694.4 380.4 L694.6 383.4 L694.7 386.5 L694.9 389.6 L695.1 392.8 L695.3 396.1 L695.5 399.4 L695.7 402.7 L695.9 406.2 L696.1 409.7 L696.3 412.3 L696.5 414.9 L696.7 417.6 L696.9 420.2 L697.1 422.9 L697.3 425.6 L697.5 428.4 L697.7 431.1 L697.9 433.9 L698.1 436.8 L698.4 439.6 L698.6 442.5 L698.8 445.4 L699.0 448.4 L699.3 451.4 L699.5 454.4 L699.8 457.4 L700.0 460.5 L700.2 463.6 L700.5 466.7 L700.7 469.9 L701.0 473.1 L701.2 476.4 L701.4 479.6 L701.7 482.9 L701.9 486.3 L702.2 489.7 L702.4 493.1 L702.6 496.5 L702.9 500.0 L703.0 502.5 L703.2 505.1 L703.3 507.7 L703.5 510.4 L703.6 513.0 L703.8 515.7 L704.0 518.5 L704.1 521.2 L704.3 524.0 L704.4 526.8 L704.6 529.7 L704.7 532.5 L704.9 535.4 L705.0 538.3 L705.1 541.3 L705.3 544.2 L705.4 547.2 L705.6 550.2 L705.7 553.2 L705.9 556.2 L706.0 559.3 L706.2 562.4 L706.3 565.4 L706.5 568.5 L706.6 571.6 L706.8 574.7 L706.9 577.9 L707.1 581.0 L707.2 584.1 L707.4 587.3 L707.5 590.5 L707.7 593.6 L707.8 596.8 L708.0 600.0 L708.1 603.1 L708.3 606.3 L708.5 609.5 L708.6 612.7 L708.8 615.9 L708.9 619.0 L709.1 622.2 L709.3 625.4 L709.5 628.6 L709.6 631.7 L709.8 634.9 L710.0 638.0 L710.2 641.2 L710.3 644.3 L710.5 647.4 L710.7 650.5 L710.9 653.6 L711.1 656.7 L711.3 659.7 L711.5 662.8 L711.7 665.8 L711.9 668.8 L712.1 671.8 L712.3 674.8 L712.6 677.9 L712.8 681.0 L713.0 684.1 L713.3 687.3 L713.5 690.4 L713.8 693.6 L714.0 696.9 L714.3 700.1 L714.6 703.4 L714.9 706.7 L715.1 710.0 L715.4 713.3 L715.7 716.6 L716.0 719.9 L716.3 723.3 L716.6 726.6 L716.9 730.0 L717.2 733.3 L717.5 736.6 L717.8 740.0 L718.1 743.3 L718.4 746.6 L718.7 750.0 L719.0 753.3 L719.3 756.6 L719.6 759.9 L719.9 763.1 L720.2 766.4 L720.5 769.6 L720.8 772.8 L721.1 776.0 L721.4 779.1 L721.8 782.3 L722.1 785.4 L722.3 788.4 L722.6 791.5 L722.9 794.4 L723.2 797.4 L723.5 800.3 L723.8 803.2 L724.1 806.0 L724.3 808.8 L724.6 811.6 L724.9 814.2 L725.1 816.9 L725.4 819.5 L725.6 822.0 L725.9 824.5 L726.1 826.9 L726.3 829.2 L726.6 831.5 L726.8 833.7 L727.0 835.9 L727.2 838.0 L727.4 840.0 L727.8 844.0 L728.1 847.6 L728.5 851.0 L728.8 854.2 L729.1 857.3 L729.4 860.2 L729.7 862.9 L730.0 865.7 L730.3 868.4 L730.6 871.2 L730.9 874.0 L731.2 876.9 L731.5 880.0 L731.8 882.9 L732.1 885.9 L732.4 888.9 L732.7 891.9 L733.0 894.9 L733.2 897.9 L733.5 901.0 L733.8 904.0 L734.1 907.1 L734.4 910.1 L734.7 913.1 L735.1 916.1 L735.4 919.1 L735.7 922.1 L736.1 925.0 L736.5 928.2 L736.9 931.4 L737.3 934.6 L737.8 937.8 L738.2 941.0 L738.7 944.2 L739.2 947.3 L739.6 950.4 L740.1 953.5 L740.6 956.5 L741.1 959.4 L741.5 962.2 L742.0 965.0 L742.6 968.4 L743.2 971.7 L743.8 974.9 L744.4 978.1 L745.0 981.1 L745.7 984.1 L746.3 987.1 L747.0 990.0 L747.8 993.5 L748.7 996.9 L749.5 1000.2 L750.4 1003.5 L751.4 1006.7 L752.5 1010.0 L753.6 1012.9 L754.8 1015.8 L756.0 1018.7 L757.3 1021.5 L758.6 1024.4 L759.9 1027.1 L761.0 1029.8 L762.3 1033.0 L763.5 1036.0 L764.7 1039.0 L765.9 1041.9 L767.3 1044.8 L774.8 1057.3 L782.3 1066.0 L788.5 1070.3 L796.0 1068.5 L806.0 1064.8 L819.7 1063.0 L832.2 1061.0 L839.7 1056.0 L850.9 1051.0 L862.2 1047.3 L874.7 1042.8 L884.7 1037.3 L895.9 1031.1 L905.9 1024.8 L917.1 1021.1 L928.4 1017.8 L937.1 1013.6 L949.6 1010.3 L962.1 1009.8 L972.1 1007.8 L984.6 1006.1 L992.1 1006.8 L999.5 1011.8 L1009.5 1012.8 L1019.5 1016.1 L1029.5 1020.3 L1044.0 1024.8 L1056.5 1031.1 L1069.0 1036.0 L1081.5 1042.3 L1093.9 1046.8 L1106.4 1051.8 L1118.9 1052.3 L1131.4 1054.3 L1143.9 1052.3 L1156.4 1049.3 L1168.9 1044.3 L1181.4 1043.5 L1193.8 1039.8 L1206.3 1032.3 L1218.8 1024.8 L1231.3 1014.8 L1243.8 1006.1 L1256.3 999.8 L1268.8 996.1 L1281.3 989.8 L1293.7 984.9 L1306.2 979.9 L1318.7 977.4 L1331.2 977.4 L1343.7 976.1 L1358.7 973.6 L1368.7 975.4 L1381.2 977.4 L1393.6 979.9 L1406.1 981.1 L1418.6 984.9 L1421.7 986.0 L1425.0 987.3 L1428.3 988.7 L1431.6 990.0 L1434.9 991.1 L1449.8 994.8 L1462.3 997.3 L1474.8 995.3 L1484.8 993.6 L1499.8 998.6 L1512.3 995.3 L1524.8 992.3 L1537.3 991.1 L1549.7 989.8 L1562.2 987.3 L1574.7 984.9 L1587.2 982.4 L1599.7 979.9 L1612.2 978.6 L1624.7 977.4 L1637.2 976.1 L1649.6 974.9 L1662.1 973.6 L1674.6 973.6 L1687.1 972.4 L1699.6 973.6 L1712.1 974.9 L1715.1 975.0 L1718.2 975.0 L1721.5 975.0 L1724.9 974.9 L1728.3 974.9 L1731.6 974.9" stroke="#00FF00" stroke-width="13.0"/>
</g>
<g clip-path="url(#cp)" fill="none" stroke-linecap="round" stroke-linejoin="round" shape-rendering="crispEdges">
<path d="M900.0 1177.5 L1047.0 1177.5 M1091.5 1167.2 L1126.4 1153.4 L1160.1 1130.9 M1193.8 1098.5 L1215.1 1071.0 M1243.8 1029.8 L1281.3 964.9 M1305.0 921.2 L1321.2 887.5 M1345.5 846.2 L1362.5 814.5 M1383.6 773.5 L1412.4 723.5 M1437.3 679.8 L1458.6 647.3 M1486.0 603.6 L1506.0 572.4 M1523.5 546.2 L1533.5 530.0 M1523.5 546.2 L1546.0 515.0 M1572.2 474.7 L1592.2 443.5 M1620.9 396.0 L1640.9 367.3 M1657.1 342.3 L1673.4 309.8 M1695.8 263.6 L1713.3 227.4 " stroke="#000080" stroke-width="13.3"/>
<path d="M800.0 1177.5 L830.0 1177.5 M838.0 1178.0 L911.0 1166.0 M945.9 1142.2 L977.1 1112.2 M1002.0 1083.5 L1024.5 1054.8 M1049.0 1014.8 L1076.5 981.1 M1102.7 943.6 L1123.9 913.7 M1132.7 901.2 L1152.6 871.2 M1178.9 832.2 L1200.1 803.4 M1227.6 767.2 L1251.3 739.8 M1262.5 727.3 L1288.7 699.8 M1325.0 662.3 L1354.9 629.9 M1392.4 589.9 L1419.9 563.7 M1453.6 528.7 L1478.6 502.5 M1514.8 464.7 L1549.7 428.5 M1577.2 393.5 L1599.7 364.8 M1629.7 322.3 L1652.1 287.4 M1654.6 282.4 L1675.9 251.2 M1702.1 205.0 L1721.6 174.0 " stroke="#FF0000" stroke-width="13.3"/>
<path d="M730.0 1177.5 L790.0 1177.5 M827.2 1162.2 L855.9 1140.9 M870.9 1126.0 L893.4 1097.2 M920.9 1057.3 L942.1 1021.1 M964.6 978.6 L979.6 947.4 M1002.0 899.9 L1017.0 862.5 M1039.3 811.2 L1051.4 780.6 M1069.0 736.0 L1084.0 706.0 M1103.9 656.1 L1121.4 618.6 M1132.7 596.2 L1148.9 562.4 M1171.4 521.2 L1185.1 495.0 M1310.0 289.9 L1326.2 258.6 M1348.7 217.4 L1366.2 185.0 M1259.9 364.7 L1283.7 334.7 M1309.9 289.7 L1327.4 257.3 M1348.6 217.3 L1366.1 184.8 M1388.6 137.4 L1409.8 92.4 " stroke="#008080" stroke-width="13.3"/>
<path d="M745.0 1177.5 L915.0 1177.5 M965.8 1165.9 L1034.5 1145.9 M1074.0 1124.7 L1100.2 1106.0 M1131.4 1082.2 L1156.4 1062.3 M1192.6 1033.6 L1218.8 1006.1 M1256.3 967.4 L1290.0 932.4 M1323.7 894.9 L1346.2 870.0 M1373.7 833.4 L1416.1 781.0 M1444.8 737.3 L1466.1 703.5 M1493.5 659.8 L1512.3 626.1 M1523.5 602.4 L1541.0 568.7 M1563.5 525.0 L1577.2 497.5 M1600.9 446.0 L1619.7 409.7 M1640.9 362.3 L1672.1 294.9 M1693.3 244.9 L1712.1 207.5 " stroke="#8000FF" stroke-width="13.3"/>
<path d="M645.0 1177.5 L740.0 1177.5 M721.0 1176.0 L746.0 1172.5 L758.6 1166.0 L770.0 1157.5 M793.5 1109.7 L808.5 1071.0 M828.5 1024.8 L843.5 986.1 M868.4 944.9 L899.6 919.9 M942.1 898.7 L973.3 881.2 M1000.8 861.2 L1029.5 842.5 M1060.2 809.7 L1087.7 779.7 M1116.4 746.0 L1155.1 694.8 M1181.4 653.6 L1200.1 623.6 M1227.6 579.9 L1250.0 543.7 M1262.5 522.5 L1278.8 497.5 M1306.2 447.2 L1326.2 414.7 M1351.2 361.0 L1364.9 336.1 M1387.4 287.4 L1409.9 228.7 M1427.4 177.5 L1437.4 155.0 M1352.3 357.2 L1363.6 337.2 M1388.6 286.0 L1408.5 229.8 M1428.5 176.1 L1442.2 137.4 M1461.0 83.7 L1471.0 52.5 " stroke="#FF8000" stroke-width="13.3"/>
<path d="M215.5 1177.5 L653.0 1177.5 M677.4 1132.2 L696.1 1098.5 M725.5 1060.0 L749.8 1045.0 L773.5 1035.0 M817.2 1018.6 L850.9 1003.6 M870.9 993.6 L899.6 976.1 M934.6 948.6 L962.1 926.2 M1002.0 886.2 L1033.3 852.5 M1072.7 813.4 L1105.2 779.7 M1131.4 753.5 L1158.9 724.8 M1185.1 692.3 L1207.6 661.1 M1235.1 616.1 L1252.5 583.7 M1262.5 564.9 L1280.0 530.0 M1302.5 479.7 L1318.7 444.7 M1335.0 402.2 L1349.9 367.3 M1367.4 318.6 L1383.7 277.4 M1393.7 249.9 L1408.6 211.2 M1368.6 317.2 L1383.6 278.5 M1394.8 249.8 L1407.3 211.1 M1428.5 154.9 L1443.5 114.9 M1464.0 62.0 L1468.5 45.0 " stroke="#00FF00" stroke-width="13.3"/>
</g>
<rect x="252" y="130.6" width="167" height="12.8" rx="5.5" fill="#000080"/>
<text class="lg" x="427.5" y="160" textLength="154.0" lengthAdjust="spacingAndGlyphs">Ch-Ch</text>
<rect x="252" y="215.6" width="167" height="12.8" rx="5.5" fill="#FF0000"/>
<text class="lg" x="427.4" y="245" textLength="157.2" lengthAdjust="spacingAndGlyphs">Ch-Ac</text>
<rect x="252" y="300.6" width="167" height="12.8" rx="5.5" fill="#008080"/>
<text class="lg" x="427.4" y="330" textLength="146.4" lengthAdjust="spacingAndGlyphs">Ch-W</text>
<rect x="252" y="385.6" width="167" height="12.8" rx="5.5" fill="#8000FF"/>
<text class="lg" x="431.6" y="415" textLength="158.2" lengthAdjust="spacingAndGlyphs">Ac-Ac</text>
<rect x="252" y="470.6" width="167" height="12.8" rx="5.5" fill="#FF8000"/>
<text class="lg" x="431.6" y="500" textLength="146.2" lengthAdjust="spacingAndGlyphs">Ac-W</text>
<rect x="252" y="555.6" width="167" height="12.8" rx="5.5" fill="#00FF00"/>
<text class="lg" x="432.8" y="585" textLength="133.2" lengthAdjust="spacingAndGlyphs">W-W</text>
<text class="tk" x="178.5" y="1186.9" text-anchor="end" textLength="28.5" lengthAdjust="spacingAndGlyphs">0</text>
<text class="tk" x="178.5" y="1000.7" text-anchor="end" textLength="28.5" lengthAdjust="spacingAndGlyphs">1</text>
<text class="tk" x="178.5" y="814.6" text-anchor="end" textLength="28.5" lengthAdjust="spacingAndGlyphs">2</text>
<text class="tk" x="178.5" y="628.4" text-anchor="end" textLength="28.5" lengthAdjust="spacingAndGlyphs">3</text>
<text class="tk" x="178.5" y="442.2" text-anchor="end" textLength="28.5" lengthAdjust="spacingAndGlyphs">4</text>
<text class="tk" x="178.5" y="256.1" text-anchor="end" textLength="28.5" lengthAdjust="spacingAndGlyphs">5</text>
<text class="tk" x="178.5" y="69.9" text-anchor="end" textLength="28.5" lengthAdjust="spacingAndGlyphs">6</text>
<text class="tk" x="216.5" y="1250.6" text-anchor="middle" textLength="29" lengthAdjust="spacingAndGlyphs">0</text>
<text class="tk" x="384.6" y="1250.6" text-anchor="middle" textLength="29" lengthAdjust="spacingAndGlyphs">1</text>
<text class="tk" x="552.7" y="1250.6" text-anchor="middle" textLength="29" lengthAdjust="spacingAndGlyphs">2</text>
<text class="tk" x="720.8" y="1250.6" text-anchor="middle" textLength="29" lengthAdjust="spacingAndGlyphs">3</text>
<text class="tk" x="888.9" y="1250.6" text-anchor="middle" textLength="29" lengthAdjust="spacingAndGlyphs">4</text>
<text class="tk" x="1057.1" y="1250.6" text-anchor="middle" textLength="29" lengthAdjust="spacingAndGlyphs">5</text>
<text class="tk" x="1225.2" y="1250.6" text-anchor="middle" textLength="29" lengthAdjust="spacingAndGlyphs">6</text>
<text class="tk" x="1393.3" y="1250.6" text-anchor="middle" textLength="29" lengthAdjust="spacingAndGlyphs">7</text>
<text class="tk" x="1561.4" y="1250.6" text-anchor="middle" textLength="29" lengthAdjust="spacingAndGlyphs">8</text>
<text class="tk" x="1729.5" y="1250.6" text-anchor="middle" textLength="29" lengthAdjust="spacingAndGlyphs">9</text>
<text class="tk" x="1754.5" y="1186.9" textLength="28.5" lengthAdjust="spacingAndGlyphs">0</text>
<text class="tk" x="1754.5" y="1075.2" textLength="28.5" lengthAdjust="spacingAndGlyphs">1</text>
<text class="tk" x="1754.5" y="963.5" textLength="28.5" lengthAdjust="spacingAndGlyphs">2</text>
<text class="tk" x="1754.5" y="851.8" textLength="28.5" lengthAdjust="spacingAndGlyphs">3</text>
<text class="tk" x="1754.5" y="740.1" textLength="28.5" lengthAdjust="spacingAndGlyphs">4</text>
<text class="tk" x="1754.5" y="628.4" textLength="28.5" lengthAdjust="spacingAndGlyphs">5</text>
<text class="tk" x="1754.5" y="516.7" textLength="28.5" lengthAdjust="spacingAndGlyphs">6</text>
<text class="tk" x="1754.5" y="405.0" textLength="28.5" lengthAdjust="spacingAndGlyphs">7</text>
<text class="tk" x="1754.5" y="293.3" textLength="28.5" lengthAdjust="spacingAndGlyphs">8</text>
<text class="tk" x="1754.5" y="181.6" textLength="28.5" lengthAdjust="spacingAndGlyphs">9</text>
<text class="tk" x="1754.5" y="69.9" textLength="55" lengthAdjust="spacingAndGlyphs">10</text>
<text class="ax" transform="translate(92,674) rotate(-90)" textLength="130" lengthAdjust="spacingAndGlyphs">g(r)</text>
<text class="ax" transform="translate(1897,686.5) rotate(-90)" textLength="152" lengthAdjust="spacingAndGlyphs">N(r)</text>
<text class="ax" x="900" y="1314" textLength="146" lengthAdjust="spacingAndGlyphs">r(Å)</text>
</svg></body></html>
